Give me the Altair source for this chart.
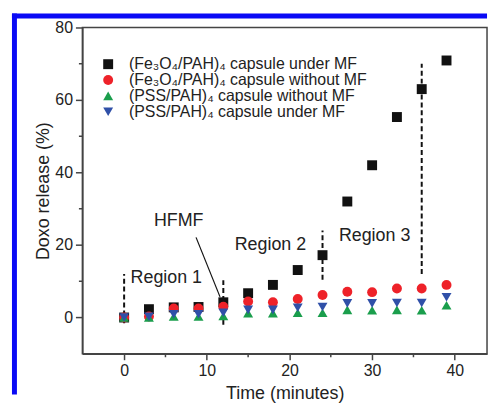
import altair as alt
import pandas as pd

# ---- data ----
times = [0, 3, 6, 9, 12, 15, 18, 21, 24, 27, 30, 33, 36, 39]
fe_under = [0, 2.3, 2.8, 2.9, 4.2, 6.7, 9.0, 13.1, 17.2, 32.0, 42.0, 55.3, 63.0, 70.9]
fe_without = [0, 0.3, 2.5, 2.5, 3.0, 4.4, 4.2, 5.1, 6.2, 7.1, 7.0, 8.0, 8.0, 9.0]
pss_without = [0, 0, 0.3, 0.3, 0.4, 1.2, 1.2, 1.3, 1.3, 2.1, 2.0, 2.1, 2.0, 3.4]
pss_under = [0, 0.2, 0.9, 0.9, 1.3, 2.1, 2.1, 2.7, 2.9, 3.9, 3.9, 4.0, 4.0, 5.6]

series_names = [
    "(Fe₃O₄/PAH)₄ capsule under MF",
    "(Fe₃O₄/PAH)₄ capsule without MF",
    "(PSS/PAH)₄ capsule without MF",
    "(PSS/PAH)₄ capsule under MF",
]
series_colors = ["#111111", "#ee2229", "#1a9e4c", "#3050a8"]
series_shapes = ["square", "circle", "triangle-up", "triangle-down"]

divider_x = [0, 12, 24, 36]
divider_lo = [-1.6, -2.0, 10.4, 12.0]
divider_hi = [12.0, 11.0, 24.0, 70.0]

label_text = ["Region 1", "HFMF", "Region 2", "Region 3"]
label_x = [5.1, 6.6, 17.7, 30.3]
label_y = [10.9, 26.5, 20.0, 22.4]

pointer_x = [8.7]
pointer_y = [22.1]
pointer_x2 = [11.6]
pointer_y2 = [5.7]

x_major = [0, 10, 20, 30, 40]
x_minor = [5, 15, 25, 35]
y_major = [0, 20, 40, 60, 80]
y_minor = [10, 30, 50, 70]

FONT = "Liberation Sans"
INK = "#222222"
AX = "#444444"

# ---- tables ----
rows = []
for i, (name, vals) in enumerate(zip(series_names, [fe_under, fe_without, pss_without, pss_under])):
    for t, v in zip(times, vals):
        rows.append({"t": t, "v": v, "series": name, "idx": i})
pts = pd.DataFrame(rows)

div_df = pd.DataFrame({"x": divider_x, "lo": divider_lo, "hi": divider_hi})
lab_df = pd.DataFrame({"text": label_text, "x": label_x, "y": label_y})
ptr_df = pd.DataFrame({"x": pointer_x, "y": pointer_y, "x2": pointer_x2, "y2": pointer_y2})
xmin_df = pd.DataFrame({"x": x_minor})
ymin_df = pd.DataFrame({"y": y_minor})
one = pd.DataFrame({"k": [0]})

W, H = 408, 329
xscale = alt.Scale(domain=[-5.05, 43.9], nice=False, zero=False)
yscale = alt.Scale(domain=[-10, 80], nice=False, zero=False)

xaxis = alt.Axis(values=x_major, title="Time (minutes)", grid=False, tickSize=6,
                 tickWidth=1.5, tickColor=AX, domainColor=AX, domainWidth=1.5,
                 labelFont=FONT, labelFontSize=16, labelColor=INK, labelPadding=3,
                 titleFont=FONT, titleFontSize=18, titleFontWeight="normal",
                 titleColor=INK, titlePadding=6)
yaxis = alt.Axis(values=y_major, title="Doxo release (%)", grid=False, tickSize=7,
                 tickWidth=1.5, tickColor=AX, domainColor=AX, domainWidth=1.5,
                 labelFont=FONT, labelFontSize=16, labelColor=INK, labelPadding=3,
                 titleFont=FONT, titleFontSize=18, titleFontWeight="normal",
                 titleColor=INK, titlePadding=2)

legend = alt.Legend(title=None, orient="none", legendX=18, legendY=29,
                    labelFont=FONT, labelFontSize=16, labelColor=INK,
                    symbolSize=100, symbolStrokeWidth=0, rowPadding=0,
                    labelOffset=13, padding=0, labelLimit=400)

color = alt.Color("series:N", scale=alt.Scale(domain=series_names, range=series_colors), legend=legend)
shape = alt.Shape("series:N", scale=alt.Scale(domain=series_names, range=series_shapes), legend=legend)

dividers = alt.Chart(div_df).mark_rule(color="#111111", strokeWidth=2, strokeDash=[5, 3]).encode(
    x=alt.X("x:Q", scale=xscale, axis=xaxis),
    y=alt.Y("lo:Q", scale=yscale, axis=yaxis),
    y2="hi:Q",
)

pointer = alt.Chart(ptr_df).mark_rule(color="#111111", strokeWidth=1.2).encode(
    x="x:Q", y="y:Q", x2="x2:Q", y2="y2:Q"
)

points = alt.Chart(pts).mark_point(filled=True, size=100, opacity=1).encode(
    x="t:Q", y="v:Q", color=color, shape=shape, order=alt.Order("idx:Q")
)

labels = alt.Chart(lab_df).mark_text(font=FONT, fontSize=18, color=INK, align="center",
                                     baseline="middle").encode(
    x="x:Q", y="y:Q", text="text:N"
)

xminor = alt.Chart(xmin_df).mark_rule(color=AX, strokeWidth=1.5).encode(
    x="x:Q", y=alt.value(H), y2=alt.value(H + 3.5)
)
yminor = alt.Chart(ymin_df).mark_rule(color=AX, strokeWidth=1.5).encode(
    y="y:Q", x=alt.value(-3.5), x2=alt.value(0)
)

border_left = alt.Chart(one).mark_rule(color="#0a0af5", strokeWidth=5).encode(
    x=alt.value(-68.5), y=alt.value(-14), y2=alt.value(370)
)
border_top = alt.Chart(one).mark_rule(color="#0a0af5", strokeWidth=5).encode(
    x=alt.value(-71), x2=alt.value(W), y=alt.value(-11.5)
)

chart = alt.layer(
    border_left, border_top, dividers, pointer, xminor, yminor, points, labels
).properties(
    width=W, height=H, background="white",
    padding={"left": 1, "top": 1, "right": 0, "bottom": 0},
).configure_view(stroke=AX, strokeWidth=1.5)

chart.save("out.html", embed_options={"renderer": "svg", "actions": False})
